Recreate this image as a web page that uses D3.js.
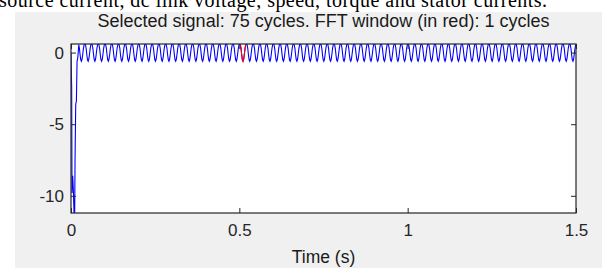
<!DOCTYPE html>
<html>
<head>
<meta charset="utf-8">
<script src="https://cdn.jsdelivr.net/npm/d3@7"></script>
<style>
  body { margin: 0; background: #fff; }
  svg { display: block; }
</style>
</head>
<body>
<div id="chart"></div>
<script>
// start-up transient (time in s, value)
const transientT = [0, 0.002, 0.003, 0.005, 0.007, 0.009, 0.011, 0.012, 0.014, 0.016, 0.018, 0.020, 0.023];
const transientV = [0, -2.5, -9.8, -8.6, -9.6, -11.2, -11.2, -7.5, -3.6, -3.4, -0.6, -0.4, 0.5];
// one 20 ms cycle of the steady signal, repeated for the 75 cycles
const cycleV = [0.55, 0.3, -0.15, -0.5, -0.6, -0.45, -0.1, 0.3, 0.55, 0.6];
const cycles = 75;
const period = 0.02;
const fftStart = 0.5;      // FFT window start (s)
const fftCycles = 1;
const xTicks = [0, 0.5, 1, 1.5];
const yTicks = [0, -5, -10];
const title = 'Selected signal: 75 cycles. FFT window (in red): 1 cycles';
const xLabel = 'Time (s)';
const caption = 'source current, dc link voltage, speed, torque and stator currents.';

const width = 602, height = 268;
const margin = { top: 44, right: 26, bottom: 55, left: 71 };
const plotW = width - margin.left - margin.right;
const plotH = height - margin.top - margin.bottom;

// build the series from the arrays above
const series = [];
transientT.forEach((t, i) => series.push({ t: t, v: transientV[i] }));
const tOffset = transientT[transientT.length - 1];
for (let c = 0; c < cycles; c++) {
  cycleV.forEach((v, i) => {
    const t = tOffset + c * period + i * period / cycleV.length;
    if (t <= 1.5) series.push({ t: t, v: v });
  });
}
const fftSeries = series.filter(d => d.t >= fftStart && d.t <= fftStart + fftCycles * period);

const svg = d3.select('#chart').append('svg')
  .attr('width', width)
  .attr('height', height);

// page text cut by the top edge, then the figure background
svg.append('text')
  .attr('x', -1).attr('y', 7)
  .attr('font-family', 'Liberation Serif')
  .attr('font-size', 20)
  .attr('textLength', 548)
  .attr('fill', '#000')
  .text(caption);

svg.append('rect')
  .attr('x', 15).attr('y', 12)
  .attr('width', width - 15).attr('height', height - 12)
  .attr('fill', '#f0f0f0');

const x = d3.scaleLinear().domain([0, 1.5]).range([0, plotW]);
const y = d3.scaleLinear().domain([-11.2, 0.6]).range([plotH, 0]);

const g = svg.append('g')
  .attr('transform', `translate(${margin.left}, ${margin.top})`);

g.append('rect')
  .attr('width', plotW)
  .attr('height', plotH)
  .attr('fill', '#fff');

g.append('clipPath').attr('id', 'clip')
  .append('rect').attr('width', plotW).attr('height', plotH);

const line = d3.line().x(d => x(d.t)).y(d => y(d.v));

g.append('path')
  .datum(series)
  .attr('clip-path', 'url(#clip)')
  .attr('d', line)
  .attr('fill', 'none')
  .attr('stroke', '#0000ff')
  .attr('stroke-width', 1.1);

g.append('path')
  .datum(fftSeries)
  .attr('clip-path', 'url(#clip)')
  .attr('d', line)
  .attr('fill', 'none')
  .attr('stroke', '#ff0000')
  .attr('stroke-width', 1.1);

// axes with inward ticks, mirrored on the opposite sides
const fmt = d => String(d);
g.append('g').attr('class', 'axis axis--x')
  .attr('transform', `translate(0, ${plotH})`)
  .call(d3.axisBottom(x).tickValues(xTicks).tickFormat(fmt).tickSizeInner(-5).tickSizeOuter(0).tickPadding(11));
g.append('g').attr('class', 'axis axis--top')
  .call(d3.axisTop(x).tickValues(xTicks).tickFormat('').tickSizeInner(-5).tickSizeOuter(0));
g.append('g').attr('class', 'axis axis--y')
  .call(d3.axisLeft(y).tickValues(yTicks).tickFormat(fmt).tickSizeInner(-5).tickSizeOuter(0).tickPadding(7));
g.append('g').attr('class', 'axis axis--right')
  .attr('transform', `translate(${plotW}, 0)`)
  .call(d3.axisRight(y).tickValues(yTicks).tickFormat('').tickSizeInner(-5).tickSizeOuter(0));

g.selectAll('.axis .domain').remove();
g.selectAll('.axis line').attr('stroke', '#262626');
g.selectAll('.axis text')
  .attr('font-family', 'Liberation Sans')
  .attr('font-size', 17)
  .attr('fill', '#262626');

g.append('rect')
  .attr('width', plotW)
  .attr('height', plotH)
  .attr('fill', 'none')
  .attr('stroke', '#262626')
  .attr('stroke-width', 1.2);

svg.append('text')
  .attr('x', margin.left + plotW / 2).attr('y', 27)
  .attr('text-anchor', 'middle')
  .attr('font-family', 'Liberation Sans')
  .attr('font-size', 18)
  .attr('fill', '#1a1a1a')
  .text(title);

svg.append('text')
  .attr('x', margin.left + plotW / 2).attr('y', 263)
  .attr('text-anchor', 'middle')
  .attr('font-family', 'Liberation Sans')
  .attr('font-size', 17.5)
  .attr('fill', '#1a1a1a')
  .text(xLabel);
</script>
</body>
</html>
